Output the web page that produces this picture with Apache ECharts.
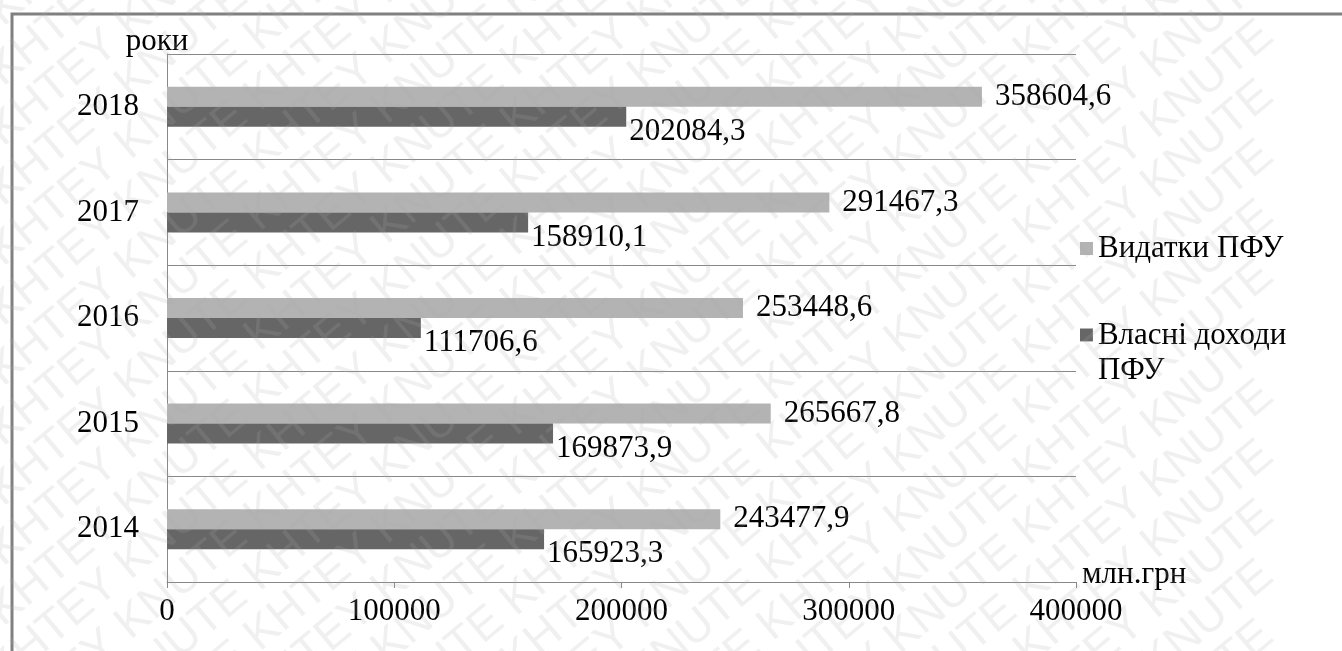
<!DOCTYPE html>
<html>
<head>
<meta charset="utf-8">
<script src="https://cdn.jsdelivr.net/npm/echarts@6/dist/echarts.min.js"></script>
<style>
  html, body { margin: 0; padding: 0; background: #fff; }
  #chart { width: 1342px; height: 651px; }
</style>
</head>
<body>
<div id="chart"></div>
<script>
// роки (знизу вгору)
const years = ['2014', '2015', '2016', '2017', '2018']
const spending = [243477.9, 265667.8, 253448.6, 291467.3, 358604.6]   // Видатки ПФУ
const ownIncome = [165923.3, 169873.9, 111706.6, 158910.1, 202084.3]  // Власні доходи ПФУ
const xTicks = [0, 100000, 200000, 300000, 400000]

const FONT = 'Liberation Serif'
const fmt = v => String(v).replace('.', ',')

// watermark rows
const marks = []
const rot = 40 * Math.PI / 180
for (let k = -2; k < 32; k++) {
  marks.push({
    type: 'text',
    silent: true,
    z: 100,
    x: -20,
    y: k * 60,
    rotation: rot,
    style: {
      text: 'KHTEY KNUTE KHTEY KNUTE KHTEY KNUTE KHTEY KNUTE KHTEY KNUTE',
      fill: 'rgba(170,170,170,0.18)',
      font: '46px "Liberation Sans"'
    }
  })
}

const chart = echarts.init(document.getElementById('chart'))
const option = {
  animation: false,
  backgroundColor: '#fff',
  textStyle: { fontFamily: FONT },
  grid: { left: 167, right: 266, top: 54, bottom: 69, containLabel: false },
  legend: [
    {
      data: ['Видатки ПФУ'],
      left: 1075,
      top: 228,
      orient: 'vertical',
      itemWidth: 13,
      itemHeight: 13,
      icon: 'rect',
      textStyle: { fontFamily: FONT, fontSize: 31, color: '#000' }
    },
    {
      data: ['Власні доходи ПФУ'],
      left: 1075,
      top: 313,
      orient: 'vertical',
      itemWidth: 13,
      itemHeight: 49,
      // square at the top of a tall icon box, so it sits by the first line
      icon: 'path://M0,0H10V10H0Z M10,38',
      formatter: name => name.replace(' ПФУ', '\nПФУ'),
      textStyle: { fontFamily: FONT, fontSize: 31, lineHeight: 35, color: '#000' }
    }
  ],
  xAxis: {
    type: 'value',
    min: xTicks[0],
    max: xTicks[xTicks.length - 1],
    interval: xTicks[1] - xTicks[0],
    name: 'млн.грн',
    nameLocation: 'end',
    nameGap: 6,
    nameTextStyle: { fontFamily: FONT, fontSize: 31, color: '#000', verticalAlign: 'bottom', padding: [0, 0, -8, 0] },
    axisLine: { show: true, lineStyle: { color: '#888', width: 1 } },
    axisTick: { show: true, length: 6, lineStyle: { color: '#888' } },
    axisLabel: { margin: 14, fontFamily: FONT, fontSize: 31, color: '#000', formatter: v => String(v) },
    splitLine: { show: false }
  },
  yAxis: {
    type: 'category',
    data: years,
    name: 'роки',
    nameLocation: 'end',
    nameGap: -3,
    nameTextStyle: { fontFamily: FONT, fontSize: 31, color: '#000', padding: [0, 20, 0, 0] },
    axisLine: { show: true, lineStyle: { color: '#888', width: 1 } },
    axisTick: { show: false },
    axisLabel: { margin: 28, fontFamily: FONT, fontSize: 31, color: '#000' },
    splitLine: { show: true, lineStyle: { color: '#888', width: 1 } }
  },
  series: [
    {
      name: 'Видатки ПФУ',
      type: 'bar',
      data: spending,
      barWidth: 20,
      barGap: '0%',
      itemStyle: { color: '#b3b3b3' },
      label: {
        show: true,
        position: 'right',
        distance: 13,
        formatter: p => fmt(p.value),
        fontFamily: FONT,
        fontSize: 31,
        color: '#000'
      }
    },
    {
      name: 'Власні доходи ПФУ',
      type: 'bar',
      data: ownIncome,
      barWidth: 20,
      barGap: '0%',
      itemStyle: { color: '#666666' },
      label: {
        show: true,
        position: 'right',
        distance: 3,
        offset: [0, 15],
        formatter: p => fmt(p.value),
        fontFamily: FONT,
        fontSize: 31,
        color: '#000'
      }
    }
  ],
  graphic: [
    {
      type: 'polyline',
      silent: true,
      z: 90,
      shape: { points: [[12, 700], [12, 14], [1400, 14]] },
      style: { fill: 'none', stroke: '#808080', lineWidth: 3 }
    }
  ].concat(marks)
}
chart.setOption(option)
window.addEventListener('resize', function() {
  chart.resize()
})
</script>
</body>
</html>
